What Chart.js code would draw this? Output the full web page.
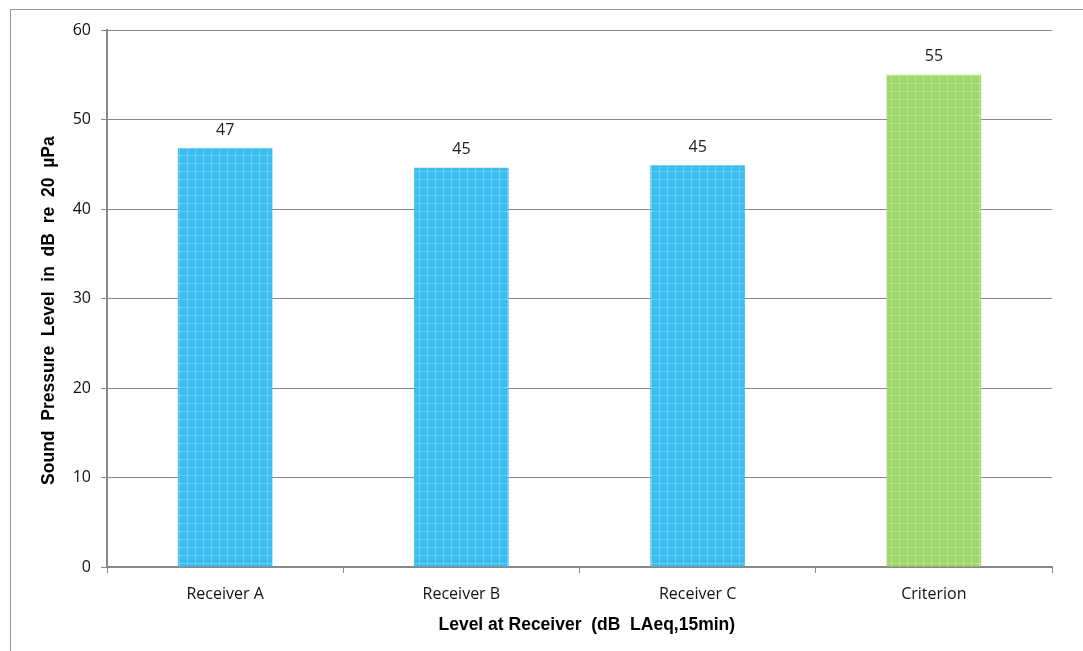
<!DOCTYPE html>
<html>
<head>
<meta charset="utf-8">
<script src="https://cdn.jsdelivr.net/npm/chart.js@4.4.1/dist/chart.umd.min.js"></script>
<style>
  html, body { margin: 0; padding: 0; background: #fff; }
  #wrap { position: relative; width: 1083px; height: 651px; }
</style>
</head>
<body>
<div id="wrap"><canvas id="noise-chart" width="1083" height="651"></canvas></div>
<script>
const receivers = ['Receiver A', 'Receiver B', 'Receiver C', 'Criterion'];
const levels = [46.8, 44.6, 44.9, 55];
const yTicks = [0, 10, 20, 30, 40, 50, 60];

// small checked fill like the original office chart
function checkPattern(base, light, dot) {
    const c = document.createElement('canvas');
    c.width = 8;
    c.height = 8;
    const g = c.getContext('2d');
    g.fillStyle = base;
    g.fillRect(0, 0, 8, 8);
    g.fillStyle = light;
    g.fillRect(0, 3, 8, 1);
    g.fillRect(3, 0, 1, 8);
    g.fillStyle = dot;
    g.fillRect(3, 3, 1, 1);
    return g.createPattern(c, 'repeat');
}

const bluePattern = checkPattern('#3cbdf0', '#62cbf4', '#9fdff8');
const greenPattern = checkPattern('#9fd86b', '#b6e18c', '#d3eebb');
const barFills = receivers.map(r => r === 'Criterion' ? greenPattern : bluePattern);

// outer frame, only left and top edges show in the picture
const framePlugin = {
    id: 'frame',
    beforeDraw(chart) {
        const ctx = chart.ctx;
        ctx.save();
        ctx.strokeStyle = '#9a9a9a';
        ctx.lineWidth = 1;
        ctx.strokeRect(10.5, 9.5, 1200, 800);
        ctx.restore();
    }
};

// rounded value above each bar
const valueLabels = {
    id: 'valueLabels',
    afterDatasetsDraw(chart) {
        const ctx = chart.ctx;
        const meta = chart.getDatasetMeta(0);
        ctx.save();
        ctx.fillStyle = '#222';
        ctx.font = '16px "Open Sans", Lato, sans-serif';
        ctx.textAlign = 'center';
        ctx.textBaseline = 'middle';
        meta.data.forEach((bar, i) => {
            ctx.fillText(Math.round(levels[i]), bar.x, bar.y - 18);
        });
        ctx.restore();
    }
};

const tickFont = { family: '"Open Sans", Lato, sans-serif', size: 16 };
const titleFont = { family: '"Liberation Sans", Arial, sans-serif', size: 17.5, weight: 'bold' };

new Chart(document.getElementById('noise-chart').getContext('2d'), {
    type: 'bar',
    data: {
        labels: receivers,
        datasets: [{
            data: levels,
            backgroundColor: barFills,
            borderWidth: 0,
            barPercentage: 0.4,
            categoryPercentage: 1
        }]
    },
    options: {
        responsive: false,
        animation: false,
        layout: { padding: { left: 0, top: 30, right: 31, bottom: 0 } },
        plugins: {
            legend: { display: false },
            tooltip: { enabled: false }
        },
        scales: {
            x: {
                grid: { drawOnChartArea: false, tickLength: 6, color: '#888' },
                border: { color: '#888', width: 2 },
                ticks: { color: '#111', font: tickFont, padding: 12 },
                title: {
                    display: true,
                    text: '   Level at Receiver  (dB  LAeq,15min)',
                    color: '#000',
                    font: titleFont,
                    padding: { top: 0, bottom: 15 }
                },
                afterFit(scale) { scale.height = 84; }
            },
            y: {
                min: 0,
                max: 60,
                afterBuildTicks(scale) { scale.ticks = yTicks.map(v => ({ value: v })); },
                grid: { color: '#888', lineWidth: 1, tickLength: 6 },
                border: { color: '#888', width: 2 },
                ticks: { color: '#111', font: tickFont, padding: 10 },
                title: {
                    display: true,
                    text: 'Sound  Pressure  Level  in  dB  re  20  µPa     ',
                    color: '#000',
                    font: titleFont,
                    padding: { top: 39, bottom: 0 }
                },
                afterFit(scale) { scale.width = 107; }
            }
        }
    },
    plugins: [framePlugin, valueLabels]
});
</script>
</body>
</html>
